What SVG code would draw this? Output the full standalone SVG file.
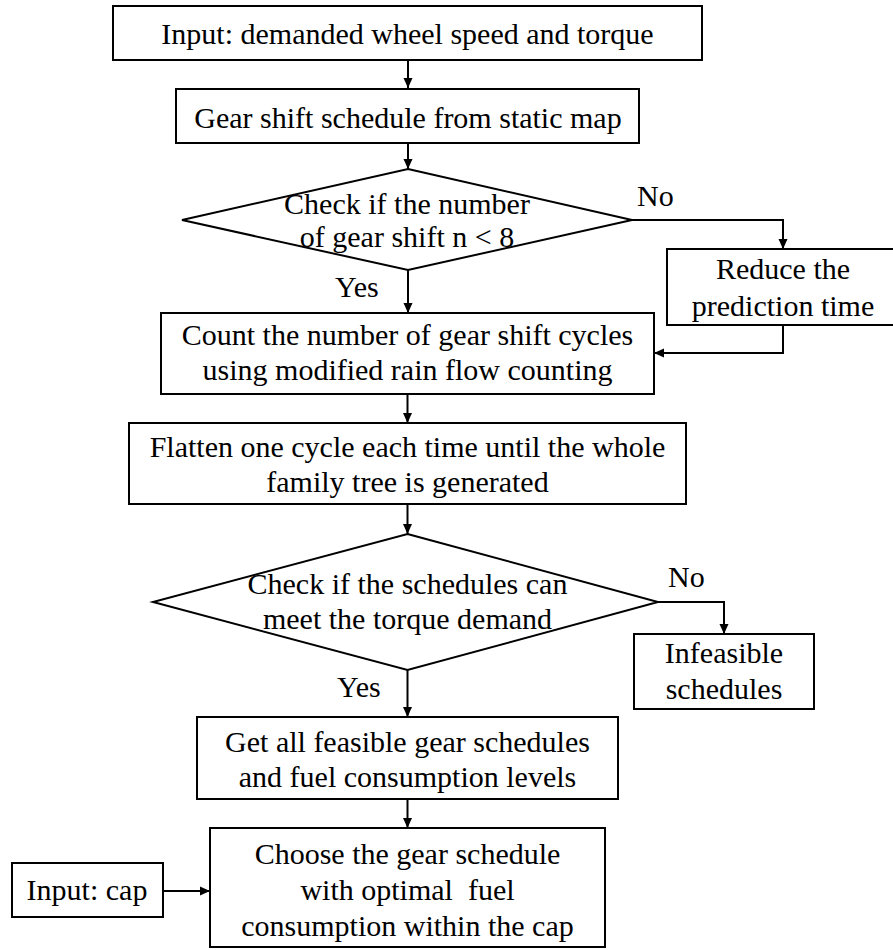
<svg xmlns="http://www.w3.org/2000/svg" width="893" height="950" viewBox="0 0 893 950">
  <style>
    .box { fill: #ffffff; stroke: #000000; stroke-width: 2; }
    .t { font-family: 'Liberation Serif', 'Times New Roman', serif; font-size: 30px; fill: #000000; text-anchor: middle; }
    .lbl { font-family: 'Liberation Serif', 'Times New Roman', serif; font-size: 30px; fill: #000000; }
    .wire { fill: none; stroke: #000000; stroke-width: 2; }
  </style>
  <defs>
    <marker id="arrow" viewBox="0 0 10 10" refX="10" refY="5" markerWidth="10" markerHeight="10" markerUnits="userSpaceOnUse" orient="auto">
      <path d="M0,0.5 L10,5 L0,9.5 z" fill="#000000"/>
    </marker>
  </defs>
  <rect width="893" height="950" fill="#ffffff"/>

  <!-- flow connectors -->
  <g id="connectors">
    <line class="wire" x1="408" y1="60" x2="408" y2="88" marker-end="url(#arrow)"/>
    <line class="wire" x1="408" y1="143" x2="408" y2="169" marker-end="url(#arrow)"/>
    <polyline class="wire" points="632,220 783,220 783,249" marker-end="url(#arrow)"/>
    <line class="wire" x1="408" y1="270" x2="408" y2="313" marker-end="url(#arrow)"/>
    <polyline class="wire" points="783,325 783,353 654,353" marker-end="url(#arrow)"/>
    <line class="wire" x1="407.5" y1="394" x2="407.5" y2="423" marker-end="url(#arrow)"/>
    <line class="wire" x1="407.5" y1="504" x2="407.5" y2="534" marker-end="url(#arrow)"/>
    <polyline class="wire" points="658,602 724,602 724,634" marker-end="url(#arrow)"/>
    <line class="wire" x1="407.5" y1="670" x2="407.5" y2="717" marker-end="url(#arrow)"/>
    <line class="wire" x1="407.5" y1="799" x2="407.5" y2="828" marker-end="url(#arrow)"/>
    <line class="wire" x1="163" y1="891" x2="210" y2="891" marker-end="url(#arrow)"/>
  </g>

  <g id="input-demand">
    <rect class="box" x="113" y="6" width="589" height="54"/>
    <text class="t" x="407.5" y="44">Input: demanded wheel speed and torque</text>
  </g>

  <g id="static-map">
    <rect class="box" x="176" y="89" width="463" height="54"/>
    <text class="t" x="408" y="128">Gear shift schedule from static map</text>
  </g>

  <g id="check-shift-count">
    <polygon class="box" points="408,169 632,220 408,270 182,220"/>
    <text class="t" x="407" y="214">Check if the number</text>
    <text class="t" x="407" y="247">of gear shift n &lt; 8</text>
    <text class="lbl" x="637" y="206">No</text>
    <text class="lbl" x="335" y="297">Yes</text>
  </g>

  <g id="reduce-time">
    <rect class="box" x="667" y="249" width="232" height="76"/>
    <text class="t" x="783" y="279">Reduce the</text>
    <text class="t" x="783" y="316">prediction time</text>
  </g>

  <g id="count-cycles">
    <rect class="box" x="161" y="313" width="493" height="81"/>
    <text class="t" x="407.5" y="345">Count the number of gear shift cycles</text>
    <text class="t" x="407.5" y="380">using modified rain flow counting</text>
  </g>

  <g id="flatten">
    <rect class="box" x="129" y="423" width="557" height="81"/>
    <text class="t" x="407.5" y="457">Flatten one cycle each time until the whole</text>
    <text class="t" x="407.5" y="492">family tree is generated</text>
  </g>

  <g id="check-torque">
    <polygon class="box" points="407.5,534 658,602 407.5,670 153,602"/>
    <text class="t" x="407.5" y="594">Check if the schedules can</text>
    <text class="t" x="407.5" y="629">meet the torque demand</text>
    <text class="lbl" x="668" y="587">No</text>
    <text class="lbl" x="337" y="697">Yes</text>
  </g>

  <g id="infeasible">
    <rect class="box" x="634" y="634" width="180" height="75"/>
    <text class="t" x="724" y="663">Infeasible</text>
    <text class="t" x="724" y="699">schedules</text>
  </g>

  <g id="feasible">
    <rect class="box" x="197" y="717" width="421" height="82"/>
    <text class="t" x="407.5" y="752">Get all feasible gear schedules</text>
    <text class="t" x="407.5" y="787">and fuel consumption levels</text>
  </g>

  <g id="choose">
    <rect class="box" x="210" y="828" width="395" height="119"/>
    <text class="t" x="407.5" y="864">Choose the gear schedule</text>
    <text class="t" x="407.5" y="900" xml:space="preserve">with optimal  fuel</text>
    <text class="t" x="407.5" y="936">consumption within the cap</text>
  </g>

  <g id="input-cap">
    <rect class="box" x="12" y="863" width="151" height="54"/>
    <text class="t" x="87" y="900">Input: cap</text>
  </g>
</svg>
